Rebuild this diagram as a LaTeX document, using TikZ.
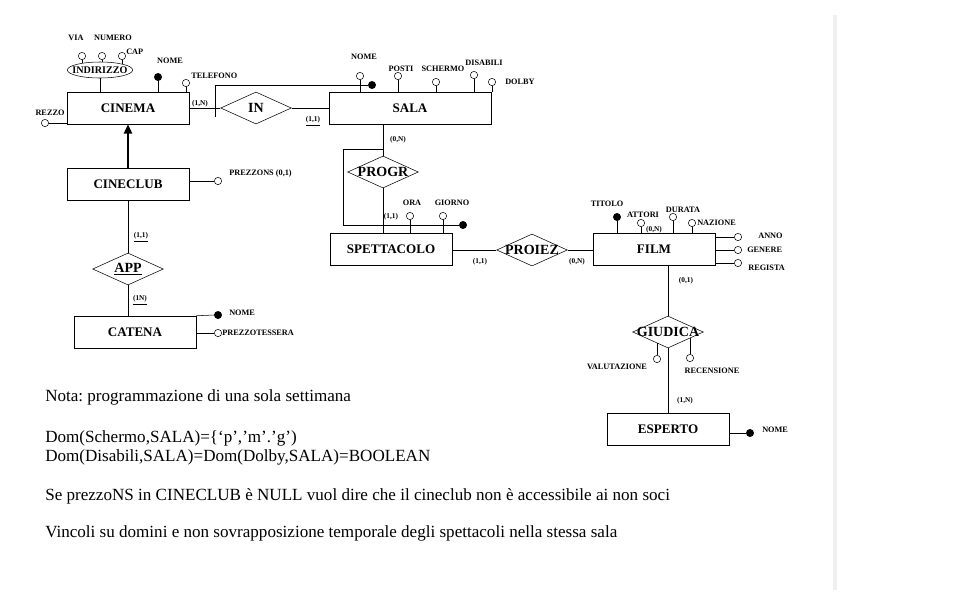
\documentclass[tikz,border=0pt]{standalone}
\usepackage{fontspec}
\setmainfont{Liberation Serif}
\usetikzlibrary{shapes.geometric,arrows.meta}

\begin{document}
\frenchspacing
\begin{tikzpicture}[x=0.75pt, y=-0.75pt, >=Latex,
    entity/.style={draw, rectangle, minimum width=91.5pt, minimum height=24pt,
      inner sep=0pt, font=\bfseries\fontsize{9.8}{11}\selectfont},
    rel/.style={draw, diamond, minimum width=53pt, minimum height=24pt, inner sep=0pt,
      label={[inner sep=0pt, font=\bfseries\fontsize{10.5}{12}\selectfont]center:#1}},
    attr/.style={circle, draw, fill=white, inner sep=0pt, minimum size=5.5pt},
    keyattr/.style={circle, draw, fill=black, inner sep=0pt, minimum size=5.5pt},
    lbl/.style={inner sep=0pt, font=\bfseries\fontsize{6.2}{7}\selectfont},
    card/.style={inner sep=0pt, font=\bfseries\fontsize{5.5}{6}\selectfont},
    note/.style={anchor=base west, inner sep=0pt, font=\fontsize{12.8}{14}\selectfont}]

  \useasboundingbox (0,0) rectangle (969,608);

  % page edge
  \draw[gray!12, line width=2.5pt] (835,15) -- (835,590);

  % entities
  \node[entity] (cinema)   at (128,108) {CINEMA};
  \node[entity] (cineclub) at (128,184) {CINECLUB};
  \node[entity] (catena)   at (135,332) {CATENA};
  \node[entity, minimum width=121.5pt] (sala) at (410,108) {SALA};
  \node[entity] (spett)    at (391,249) {SPETTACOLO};
  \node[entity] (film)     at (654,249) {FILM};
  \node[entity] (esperto)  at (668,429) {ESPERTO};

  % relationships
  \node[rel=IN]               (in)      at (256,108) {};
  \node[rel=PROGR]            (progr)   at (383,172) {};
  \node[rel=\underline{APP}]  (app)     at (128,269) {};
  \node[rel=PROIEZ]           (proiez)  at (532,250) {};
  \node[rel=GIUDICA]          (giudica) at (668,332) {};

  % links
  \draw (cinema.east) -- (in.west);
  \draw (in.east) -- (sala.west);
  \draw (progr.north |- sala.south) -- (progr.north);
  \draw (progr.south) -- (progr.south |- spett.north);
  \draw (spett.east |- proiez.west) -- (proiez.west);
  \draw (proiez.east) -- (proiez.east -| film.west);
  \draw (giudica.north |- film.south) -- (giudica.north);
  \draw (giudica.south) -- (esperto.north);
  \draw (cineclub.south) -- (app.north);
  \draw (app.south) -- (catena.north -| app.south);
  \draw[line width=2.2pt, -{Triangle[length=7pt, width=6pt]}] (cineclub.north) -- (cinema.south);

  % cardinalities
  \node[card] (k1)  at (200,104) {(1,N)};
  \node[card] (k2)  at (313,121) {\underline{(1,1)}};
  \node[card] (k3)  at (398,140) {(0,N)};
  \node[card] (k4)  at (391,217) {(1,1)};
  \node[card] (k5)  at (480,262) {(1,1)};
  \node[card] (k6)  at (577,262) {(0,N)};
  \node[card] (k7)  at (686,281) {(0,1)};
  \node[card] (k8)  at (685,401) {(1,N)};
  \node[card] (k9)  at (141,237) {\underline{(1,1)}};
  \node[card] (k10) at (140,300) {\underline{(1N)}};

  % CINEMA attributes
  \node[draw, ellipse, minimum width=49pt, minimum height=12pt, inner sep=0pt,
    label={[inner sep=0pt, font=\bfseries\fontsize{7.6}{9}\selectfont]center:INDIRIZZO}] (indirizzo) at (100,70) {};
  \draw (indirizzo.south) -- (indirizzo.south |- cinema.north);
  \node[attr] (via)    at (82,56)  {};
  \node[attr] (numero) at (102,56) {};
  \node[attr] (cap)    at (122,56) {};
  \draw (via.south) -- (via.south |- indirizzo.160);
  \draw (numero.south) -- (numero.south |- indirizzo.north);
  \draw (cap.south) -- (cap.south |- indirizzo.15);
  \node[lbl] (lvia)    at (76,38)  {VIA};
  \node[lbl] (lnumero) at (113,38) {NUMERO};
  \node[lbl, anchor=west] (lcap) at (126,52) {CAP};
  \node[keyattr] (cnome) at (158,77) {};
  \draw (cnome.south) -- (cnome.south |- cinema.north);
  \node[lbl] (lcnome) at (170,61) {NOME};
  \node[attr] (tel) at (186,83) {};
  \draw (tel.south) -- (tel.south |- cinema.north);
  \node[lbl, anchor=west] (ltel) at (191,76) {TELEFONO};
  \node[attr] (rezzo) at (45,123) {};
  \draw (rezzo.east) -- (rezzo.east -| cinema.west);
  \node[lbl] (lrezzo) at (50,113) {REZZO};

  % CINECLUB / CATENA attributes
  \node[attr] (prezzons) at (218,181) {};
  \draw (prezzons.west -| cineclub.east) -- (prezzons.west);
  \node[lbl, anchor=west] (lprezzons) at (229,174) {PREZZONS (0,1)};
  \node[keyattr] (knome) at (218,315) {};
  \draw (catena.north east) -- (knome.west);
  \node[lbl, anchor=west] (lknome) at (229,313) {NOME};
  \node[attr] (tessera) at (218,333) {};
  \draw (tessera.west -| catena.east) -- (tessera.west);
  \node[lbl, anchor=west] (ltessera) at (222,333) {PREZZOTESSERA};

  % SALA attributes
  \node[attr]    (snome)  at (360,76) {};
  \node[keyattr] (skey)   at (372,85) {};
  \node[attr]    (posti)  at (398,76) {};
  \node[attr]    (scherm) at (436,82) {};
  \node[attr]    (disab)  at (474,75) {};
  \node[attr]    (dolby)  at (492,82) {};
  \foreach \a in {snome, posti, scherm, disab, dolby}
    \draw (\a.south) -- (\a.south |- sala.north);
  \coordinate (extid) at (215,117);
  \draw (skey.west) -| (extid);
  \node[lbl] (lsnome)  at (364,57) {NOME};
  \node[lbl] (lposti)  at (401,69) {POSTI};
  \node[lbl] (lscherm) at (443,69) {SCHERMO};
  \node[lbl] (ldisab)  at (484,63) {DISABILI};
  \node[lbl, anchor=west] (ldolby) at (505,82) {DOLBY};

  % SPETTACOLO attributes
  \node[attr]    (ora)    at (410,216) {};
  \node[attr]    (giorno) at (443,216) {};
  \node[keyattr] (spkey)  at (463,225) {};
  \draw (ora.south) -- (ora.south |- spett.north);
  \draw (giorno.south) -- (giorno.south |- spett.north);
  \coordinate (sk1) at (343,149);
  \draw (progr.north |- sk1) -- (sk1) |- (spkey.west);
  \node[lbl] (lora)    at (412,203) {ORA};
  \node[lbl] (lgiorno) at (452,203) {GIORNO};

  % FILM attributes
  \node[keyattr] (titolo)  at (617,217) {};
  \node[attr]    (attori)  at (641,223) {};
  \node[attr]    (durata)  at (673,217) {};
  \node[attr]    (nazione) at (692,223) {};
  \foreach \a in {titolo, attori, durata, nazione}
    \draw (\a.south) -- (\a.south |- film.north);
  \node[lbl] (ltitolo)  at (607,204) {TITOLO};
  \node[lbl] (lattori)  at (643,215) {ATTORI};
  \node[card] (kattori) at (654,230) {(0,N)};
  \node[lbl] (ldurata)  at (683,210) {DURATA};
  \node[lbl, anchor=west] (lnazione) at (697,223) {NAZIONE};
  \node[attr] (anno)    at (738,237) {};
  \node[attr] (genere)  at (738,250) {};
  \node[attr] (regista) at (738,263) {};
  \foreach \a in {anno, genere, regista}
    \draw (\a.west -| film.east) -- (\a.west);
  \node[lbl, anchor=west] (lanno)    at (758,236) {ANNO};
  \node[lbl, anchor=west] (lgenere)  at (747,250) {GENERE};
  \node[lbl, anchor=west] (lregista) at (748,268) {REGISTA};

  % GIUDICA / ESPERTO attributes
  \node[attr] (valut) at (657,359) {};
  \node[attr] (recen) at (690,358) {};
  \draw (valut.north) -- (valut.north |- giudica.-136);
  \draw (recen.north) -- (recen.north |- giudica.-15);
  \node[lbl] (lvalut) at (617,367) {VALUTAZIONE};
  \node[lbl] (lrecen) at (712,371) {RECENSIONE};
  \node[keyattr] (enome) at (750,433) {};
  \draw (enome.west -| esperto.east) -- (enome.west);
  \node[lbl, anchor=west] (lenome) at (762,430) {NOME};

  % notes
  \node[note] (n1) at (45,401) {Nota: programmazione di una sola settimana};
  \node[note] (n2) at (45,442) {Dom(Schermo,SALA)=\{‘p’,’m’.’g’)};
  \node[note] (n3) at (45,461) {Dom(Disabili,SALA)=Dom(Dolby,SALA)=BOOLEAN};
  \node[note] (n4) at (45,500) {Se prezzoNS in CINECLUB è NULL vuol dire che il cineclub non è accessibile ai non soci};
  \node[note] (n5) at (45,537) {Vincoli su domini e non sovrapposizione temporale degli spettacoli nella stessa sala};

\end{tikzpicture}
\end{document}
